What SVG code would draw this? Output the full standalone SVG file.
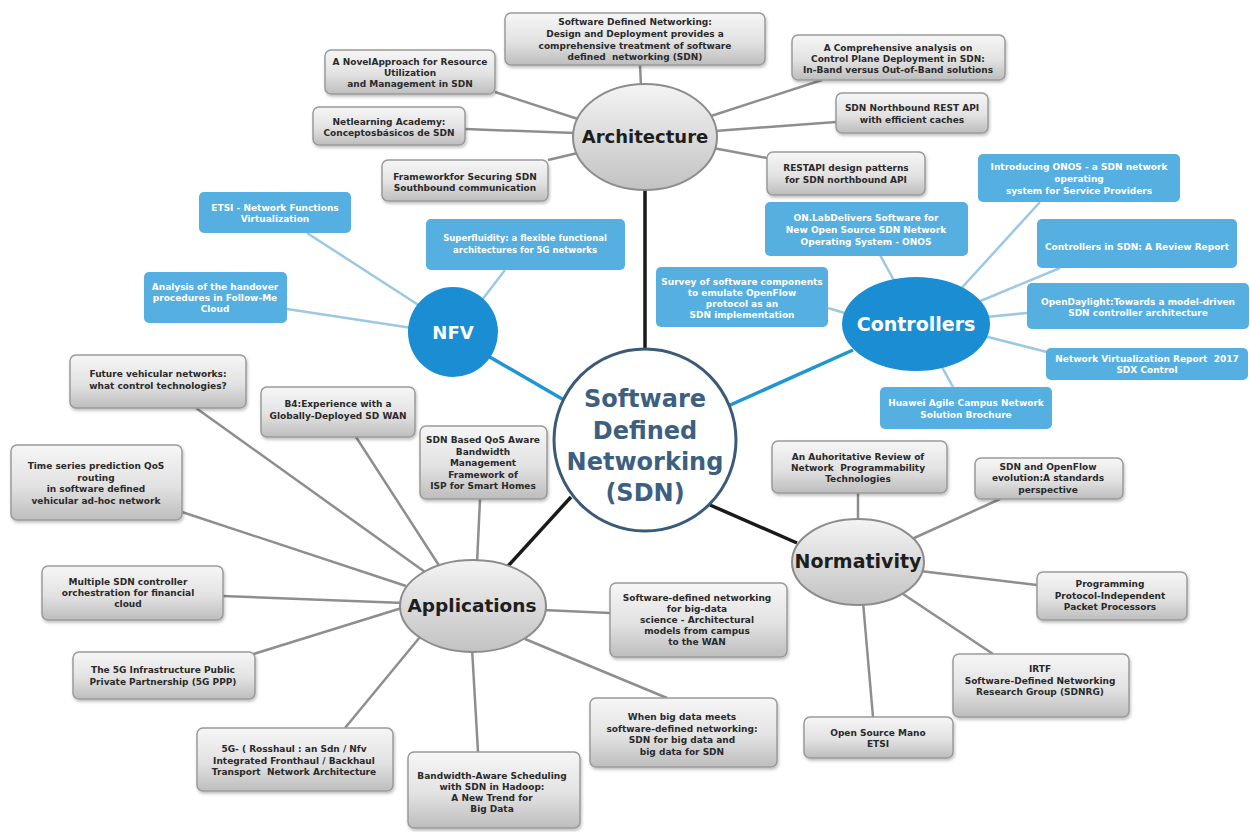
<svg xmlns="http://www.w3.org/2000/svg" width="1250" height="832" viewBox="0 0 1250 832">
<defs>
<linearGradient id="gg" x1="0" y1="0" x2="0" y2="1">
<stop offset="0" stop-color="#f6f6f6"/>
<stop offset="0.55" stop-color="#e2e2e2"/>
<stop offset="1" stop-color="#bdbdbd"/>
</linearGradient>
<linearGradient id="eg" x1="0" y1="0" x2="0" y2="1">
<stop offset="0" stop-color="#f4f4f4"/>
<stop offset="1" stop-color="#c2c2c2"/>
</linearGradient>
<filter id="sh" x="-10%" y="-10%" width="125%" height="135%">
<feDropShadow dx="1" dy="2" stdDeviation="1.5" flood-color="#000" flood-opacity="0.25"/>
</filter>
<style>
.box{fill:url(#gg);stroke:#9a9a9a;stroke-width:1.5;filter:url(#sh)}
.bbox{fill:#55afe0}
.hub{fill:url(#eg);stroke:#8c8c8c;stroke-width:2}
.t{font-family:"DejaVu Sans",Verdana,sans-serif;font-weight:bold;font-size:9px;fill:#2a2a2a;text-anchor:middle;white-space:pre}
.tw{font-family:"DejaVu Sans",Verdana,sans-serif;font-weight:bold;font-size:9px;fill:#ffffff;text-anchor:middle;white-space:pre}
.ht{font-family:"DejaVu Sans",Verdana,sans-serif;font-weight:bold;fill:#1e1e1e;text-anchor:middle}
.gl{stroke:#8e8e8e;stroke-width:2.5;fill:none}
.bl{stroke:#9cc8e2;stroke-width:2.5;fill:none}
.hk{stroke:#1a1a1a;stroke-width:3.5;fill:none}
.hb{stroke:#1f95d6;stroke-width:3.5;fill:none}
</style>
</defs>
<rect width="1250" height="832" fill="#ffffff"/>

<g id="connectors">
<line class="hk" x1="645" y1="188" x2="645" y2="352"/>
<line class="hb" x1="488" y1="356" x2="576" y2="407"/>
<line class="hb" x1="853" y1="350" x2="728" y2="406"/>
<line class="hk" x1="508" y1="566" x2="571" y2="497"/>
<line class="hk" x1="710" y1="505" x2="797" y2="543"/>

<line class="gl" x1="640" y1="65" x2="641" y2="86"/>
<line class="gl" x1="495" y1="92" x2="578" y2="119"/>
<line class="gl" x1="465" y1="129" x2="575" y2="133"/>
<line class="gl" x1="548" y1="160" x2="582" y2="152"/>
<line class="gl" x1="822" y1="80" x2="711" y2="116"/>
<line class="gl" x1="836" y1="122" x2="715" y2="131"/>
<line class="gl" x1="767" y1="158" x2="713" y2="148"/>

<line class="bl" x1="307" y1="233" x2="420" y2="306"/>
<line class="bl" x1="505" y1="270" x2="482" y2="300"/>
<line class="bl" x1="287" y1="309" x2="412" y2="328"/>

<line class="bl" x1="1040" y1="202" x2="958" y2="292"/>
<line class="bl" x1="880" y1="255" x2="896" y2="284"/>
<line class="bl" x1="1060" y1="268" x2="978" y2="302"/>
<line class="bl" x1="828" y1="308" x2="848" y2="314"/>
<line class="bl" x1="1027" y1="313" x2="986" y2="317"/>
<line class="bl" x1="1047" y1="352" x2="984" y2="336"/>
<line class="bl" x1="953" y1="387" x2="942" y2="367"/>

<line class="gl" x1="196" y1="408" x2="425" y2="572"/>
<line class="gl" x1="356" y1="437" x2="440" y2="567"/>
<line class="gl" x1="480" y1="499" x2="477" y2="564"/>
<line class="gl" x1="182" y1="512" x2="406" y2="586"/>
<line class="gl" x1="222" y1="596" x2="404" y2="603"/>
<line class="gl" x1="247" y1="656" x2="405" y2="607"/>
<line class="gl" x1="345" y1="728" x2="420" y2="637"/>
<line class="gl" x1="478" y1="752" x2="472" y2="648"/>
<line class="gl" x1="543" y1="610" x2="610" y2="613"/>
<line class="gl" x1="525" y1="639" x2="667" y2="698"/>

<line class="gl" x1="858" y1="493" x2="858" y2="523"/>
<line class="gl" x1="1000" y1="499" x2="912" y2="539"/>
<line class="gl" x1="1037" y1="585" x2="920" y2="571"/>
<line class="gl" x1="993" y1="654" x2="903" y2="594"/>
<line class="gl" x1="873" y1="717" x2="863" y2="602"/>
</g>

<g id="sdn">
<circle cx="645" cy="440" r="91" fill="#ffffff" stroke="#3a5a78" stroke-width="3"/>
<text class="ht" font-size="24" style="fill:#3d5f80"><tspan x="645" y="407">Software</tspan><tspan x="645" y="439">Defined</tspan><tspan x="645" y="470">Networking</tspan><tspan x="645" y="501">(SDN)</tspan></text>
</g>

<g id="architecture">
<ellipse class="hub" cx="645" cy="137" rx="72" ry="53"/>
<text class="ht" x="645" y="143" font-size="18">Architecture</text>
</g>
<g id="nfv">
<circle cx="453" cy="332" r="45" fill="#1a8dd3"/>
<text class="ht" x="453" y="339" font-size="18" style="fill:#ffffff">NFV</text>
</g>
<g id="controllers">
<ellipse cx="916" cy="324" rx="74" ry="47" fill="#1a8dd3"/>
<text class="ht" x="916" y="331" font-size="19" style="fill:#ffffff">Controllers</text>
</g>
<g id="applications">
<ellipse class="hub" cx="473" cy="606" rx="73" ry="46"/>
<text class="ht" x="472" y="612" font-size="18.5">Applications</text>
</g>
<g id="normativity">
<ellipse class="hub" cx="858" cy="562" rx="66" ry="43"/>
<text class="ht" x="858" y="568" font-size="19">Normativity</text>
</g>

<g id="a1"><rect class="box" x="505" y="13" width="260" height="52" rx="6"/>
<text class="t"><tspan x="635" y="25">Software Defined Networking:</tspan><tspan x="635" y="37">Design and Deployment provides a</tspan><tspan x="635" y="49">comprehensive treatment of software</tspan><tspan x="635" y="60">defined  networking (SDN)</tspan></text></g>
<g id="a2"><rect class="box" x="325" y="50" width="170" height="44" rx="6"/>
<text class="t"><tspan x="410" y="65">A NovelApproach for Resource</tspan><tspan x="410" y="76">Utilization</tspan><tspan x="410" y="87">and Management in SDN</tspan></text></g>
<g id="a3"><rect class="box" x="313" y="107" width="152" height="38" rx="6"/>
<text class="t"><tspan x="389" y="125">Netlearning Academy:</tspan><tspan x="389" y="136">Conceptosbásicos de SDN</tspan></text></g>
<g id="a4"><rect class="box" x="382" y="160" width="166" height="41" rx="6"/>
<text class="t"><tspan x="465" y="180">Frameworkfor Securing SDN</tspan><tspan x="465" y="191">Southbound communication</tspan></text></g>
<g id="a5"><rect class="box" x="792" y="35" width="213" height="45" rx="6"/>
<text class="t"><tspan x="898" y="51">A Comprehensive analysis on</tspan><tspan x="898" y="62">Control Plane Deployment in SDN:</tspan><tspan x="898" y="73">In-Band versus Out-of-Band solutions</tspan></text></g>
<g id="a6"><rect class="box" x="836" y="93" width="152" height="40" rx="6"/>
<text class="t"><tspan x="912" y="111">SDN Northbound REST API</tspan><tspan x="912" y="123">with efficient caches</tspan></text></g>
<g id="a7"><rect class="box" x="767" y="152" width="158" height="43" rx="6"/>
<text class="t"><tspan x="846" y="171">RESTAPI design patterns</tspan><tspan x="846" y="183">for SDN northbound API</tspan></text></g>

<g id="n1"><rect class="bbox" x="199" y="192" width="152" height="41" rx="5"/>
<text class="tw"><tspan x="275" y="211">ETSI - Network Functions</tspan><tspan x="275" y="222">Virtualization</tspan></text></g>
<g id="n2"><rect class="bbox" x="426" y="219" width="199" height="51" rx="5"/>
<text class="tw" style="font-size:8.5px"><tspan x="525" y="241">Superfluidity: a flexible functional</tspan><tspan x="525" y="253">architectures for 5G networks</tspan></text></g>
<g id="n3"><rect class="bbox" x="144" y="272" width="143" height="51" rx="5"/>
<text class="tw"><tspan x="215" y="290">Analysis of the handover</tspan><tspan x="215" y="301">procedures in Follow-Me</tspan><tspan x="215" y="312">Cloud</tspan></text></g>

<g id="c1"><rect class="bbox" x="978" y="154" width="202" height="48" rx="5"/>
<text class="tw"><tspan x="1079" y="170">Introducing ONOS - a SDN network</tspan><tspan x="1079" y="182">operating</tspan><tspan x="1079" y="194">system for Service Providers</tspan></text></g>
<g id="c2"><rect class="bbox" x="765" y="202" width="203" height="54" rx="5"/>
<text class="tw"><tspan x="866" y="221">ON.LabDelivers Software for</tspan><tspan x="866" y="233">New Open Source SDN Network</tspan><tspan x="866" y="245">Operating System - ONOS</tspan></text></g>
<g id="c3"><rect class="bbox" x="1037" y="219" width="200" height="49" rx="5"/>
<text class="tw"><tspan x="1137" y="250">Controllers in SDN: A Review Report</tspan></text></g>
<g id="c4"><rect class="bbox" x="656" y="267" width="172" height="60" rx="5"/>
<text class="tw"><tspan x="742" y="285">Survey of software components</tspan><tspan x="742" y="296">to emulate OpenFlow</tspan><tspan x="742" y="307">protocol as an</tspan><tspan x="742" y="318">SDN implementation</tspan></text></g>
<g id="c5"><rect class="bbox" x="1027" y="283" width="222" height="46" rx="5"/>
<text class="tw"><tspan x="1138" y="305">OpenDaylight:Towards a model-driven</tspan><tspan x="1138" y="316">SDN controller architecture</tspan></text></g>
<g id="c6"><rect class="bbox" x="1046" y="348" width="202" height="32" rx="5"/>
<text class="tw"><tspan x="1147" y="362">Network Virtualization Report  2017</tspan><tspan x="1147" y="373">SDX Control</tspan></text></g>
<g id="c7"><rect class="bbox" x="880" y="387" width="172" height="42" rx="5"/>
<text class="tw"><tspan x="966" y="406">Huawei Agile Campus Network</tspan><tspan x="966" y="418">Solution Brochure</tspan></text></g>

<g id="p1"><rect class="box" x="70" y="355" width="176" height="53" rx="6"/>
<text class="t"><tspan x="158" y="377">Future vehicular networks:</tspan><tspan x="158" y="389">what control technologies?</tspan></text></g>
<g id="p2"><rect class="box" x="261" y="387" width="154" height="50" rx="6"/>
<text class="t"><tspan x="338" y="407">B4:Experience with a</tspan><tspan x="338" y="419">Globally-Deployed SD WAN</tspan></text></g>
<g id="p3"><rect class="box" x="420" y="426" width="127" height="73" rx="6"/>
<text class="t"><tspan x="483" y="443">SDN Based QoS Aware</tspan><tspan x="483" y="454.5">Bandwidth</tspan><tspan x="483" y="466">Management</tspan><tspan x="483" y="477.5">Framework of</tspan><tspan x="483" y="489">ISP for Smart Homes</tspan></text></g>
<g id="p4"><rect class="box" x="11" y="445" width="171" height="75" rx="6"/>
<text class="t"><tspan x="96" y="469">Time series prediction QoS</tspan><tspan x="96" y="481">routing</tspan><tspan x="96" y="492">in software defined</tspan><tspan x="96" y="504">vehicular ad-hoc network</tspan></text></g>
<g id="p5"><rect class="box" x="42" y="566" width="181" height="54" rx="6"/>
<text class="t"><tspan x="128" y="585">Multiple SDN controller</tspan><tspan x="128" y="596">orchestration for financial</tspan><tspan x="128" y="607">cloud</tspan></text></g>
<g id="p6"><rect class="box" x="73" y="652" width="182" height="47" rx="6"/>
<text class="t"><tspan x="163" y="673">The 5G Infrastructure Public</tspan><tspan x="163" y="685">Private Partnership (5G PPP)</tspan></text></g>
<g id="p7"><rect class="box" x="197" y="728" width="196" height="63" rx="6"/>
<text class="t"><tspan x="294" y="752">5G- ( Rosshaul : an Sdn / Nfv</tspan><tspan x="294" y="764">Integrated Fronthaul / Backhaul</tspan><tspan x="294" y="775">Transport  Network Architecture</tspan></text></g>
<g id="p8"><rect class="box" x="408" y="752" width="172" height="76" rx="6"/>
<text class="t"><tspan x="492" y="779">Bandwidth-Aware Scheduling</tspan><tspan x="492" y="790">with SDN in Hadoop:</tspan><tspan x="492" y="801">A New Trend for</tspan><tspan x="492" y="812">Big Data</tspan></text></g>
<g id="p9"><rect class="box" x="610" y="583" width="177" height="74" rx="6"/>
<text class="t"><tspan x="697" y="601">Software-defined networking</tspan><tspan x="697" y="612">for big-data</tspan><tspan x="697" y="623">science - Architectural</tspan><tspan x="697" y="634">models from campus</tspan><tspan x="697" y="645">to the WAN</tspan></text></g>
<g id="p10"><rect class="box" x="590" y="698" width="187" height="69" rx="6"/>
<text class="t"><tspan x="682" y="720">When big data meets</tspan><tspan x="682" y="732">software-defined networking:</tspan><tspan x="682" y="743">SDN for big data and</tspan><tspan x="682" y="755">big data for SDN</tspan></text></g>

<g id="m1"><rect class="box" x="772" y="441" width="175" height="52" rx="6"/>
<text class="t"><tspan x="858" y="460">An Auhoritative Review of</tspan><tspan x="858" y="471">Network  Programmability</tspan><tspan x="858" y="482">Technologies</tspan></text></g>
<g id="m2"><rect class="box" x="975" y="458" width="148" height="41" rx="6"/>
<text class="t"><tspan x="1048" y="470">SDN and OpenFlow</tspan><tspan x="1048" y="481">evolution:A standards</tspan><tspan x="1048" y="493">perspective</tspan></text></g>
<g id="m3"><rect class="box" x="1037" y="572" width="150" height="48" rx="6"/>
<text class="t"><tspan x="1110" y="587">Programming</tspan><tspan x="1110" y="599">Protocol-Independent</tspan><tspan x="1110" y="610">Packet Processors</tspan></text></g>
<g id="m4"><rect class="box" x="953" y="654" width="176" height="63" rx="6"/>
<text class="t"><tspan x="1040" y="672">IRTF</tspan><tspan x="1040" y="684">Software-Defined Networking</tspan><tspan x="1040" y="695">Research Group (SDNRG)</tspan></text></g>
<g id="m5"><rect class="box" x="804" y="717" width="149" height="41" rx="6"/>
<text class="t"><tspan x="878" y="736">Open Source Mano</tspan><tspan x="878" y="747">ETSI</tspan></text></g>
</svg>
